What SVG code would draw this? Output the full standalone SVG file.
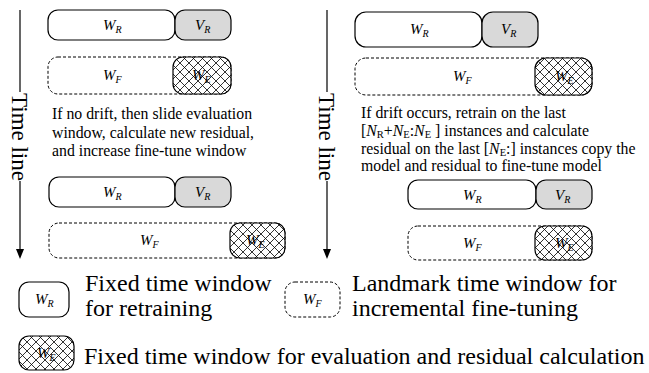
<svg xmlns="http://www.w3.org/2000/svg" width="649" height="373" viewBox="0 0 649 373">
<defs>
<pattern id="hatch" patternUnits="userSpaceOnUse" width="9" height="9">
<path d="M0,0 L9,9 M9,0 L0,9" stroke="#000" stroke-width="0.8" fill="none"/>
</pattern>
</defs>
<style>
.solid{fill:#fff;stroke:#000;stroke-width:1.2}
.grey{fill:#d9d9d9;stroke:#000;stroke-width:1.2}
.dash{fill:#fff;stroke:#000;stroke-width:1;stroke-dasharray:3,2}
.hb{fill:#fff;stroke:none}
.hh{fill:url(#hatch);stroke:#000;stroke-width:1.2}
.lbl{font-family:"Liberation Serif",serif;font-style:italic;font-size:15px;fill:#000}
.sub{font-size:10px}
.txt{font-family:"Liberation Serif",serif;font-size:15.8px;fill:#000}
.big{font-family:"Liberation Serif",serif;font-size:24px;fill:#000}
.tl{font-family:"Liberation Serif",serif;font-size:23px;fill:#000}
.ln{stroke:#000;stroke-width:1.2;fill:none}
</style>
<g id="connectors">
<line class="ln" x1="20" y1="10" x2="20" y2="92"/>
<line class="ln" x1="20" y1="181" x2="20" y2="250"/>
<path d="M16,249 L24,249 L20,259 Z" fill="#000"/>
<line class="ln" x1="327" y1="10" x2="327" y2="92"/>
<line class="ln" x1="327" y1="181" x2="327" y2="250"/>
<path d="M323,249 L331,249 L327,259 Z" fill="#000"/>
</g>
<g id="timeline-left"><text class="tl" transform="translate(12,93) rotate(90)">Time line</text></g>
<g id="timeline-right"><text class="tl" transform="translate(319,93) rotate(90)">Time line</text></g>

<g id="L1-WR"><rect class="solid" x="48" y="10" width="127" height="30" rx="10"/><text class="lbl" x="103" y="30">W<tspan class="sub" dy="3">R</tspan></text></g>
<g id="L1-VR"><rect class="grey" x="175" y="10" width="56" height="30" rx="10"/><text class="lbl" x="195" y="30">V<tspan class="sub" dy="3">R</tspan></text></g>
<g id="L1-WF"><rect class="dash" x="48" y="57" width="183" height="37" rx="10"/><text class="lbl" x="103" y="80">W<tspan class="sub" dy="3">F</tspan></text></g>
<g id="L1-WE"><rect class="hb" x="173" y="57" width="58" height="37" rx="10"/><text class="lbl" x="192" y="80">W<tspan class="sub" dy="3">E</tspan></text><rect class="hh" x="173" y="57" width="58" height="37" rx="10"/></g>

<g id="L-text">
<text class="txt" x="52" y="119">If no drift, then slide evaluation</text>
<text class="txt" x="52" y="137.5">window, calculate new residual,</text>
<text class="txt" x="52" y="156">and increase fine-tune window</text>
</g>

<g id="L2-WR"><rect class="solid" x="49" y="177" width="126" height="30" rx="10"/><text class="lbl" x="103" y="197">W<tspan class="sub" dy="3">R</tspan></text></g>
<g id="L2-VR"><rect class="grey" x="175" y="177" width="56" height="30" rx="10"/><text class="lbl" x="195" y="197">V<tspan class="sub" dy="3">R</tspan></text></g>
<g id="L2-WF"><rect class="dash" x="49" y="223" width="236" height="35" rx="10"/><text class="lbl" x="140" y="245">W<tspan class="sub" dy="3">F</tspan></text></g>
<g id="L2-WE"><rect class="hb" x="230" y="223" width="55" height="35" rx="10"/><text class="lbl" x="246" y="245">W<tspan class="sub" dy="3">E</tspan></text><rect class="hh" x="230" y="223" width="55" height="35" rx="10"/></g>

<g id="R1-WR"><rect class="solid" x="355" y="12" width="127" height="35" rx="11"/><text class="lbl" x="410" y="34">W<tspan class="sub" dy="3">R</tspan></text></g>
<g id="R1-VR"><rect class="grey" x="482" y="12" width="56" height="35" rx="11"/><text class="lbl" x="501" y="34">V<tspan class="sub" dy="3">R</tspan></text></g>
<g id="R1-WF"><rect class="dash" x="355" y="58" width="237" height="37" rx="11"/><text class="lbl" x="453" y="81">W<tspan class="sub" dy="3">F</tspan></text></g>
<g id="R1-WE"><rect class="hb" x="535" y="58" width="57" height="37" rx="11"/><text class="lbl" x="555" y="81">W<tspan class="sub" dy="3">E</tspan></text><rect class="hh" x="535" y="58" width="57" height="37" rx="11"/></g>

<g id="R-text">
<text class="txt" x="361" y="117.5">If drift occurs, retrain on the last</text>
<text class="txt" x="361" y="135.5">[<tspan font-style="italic">N</tspan><tspan font-size="10.5px" dy="2.5">R</tspan><tspan dy="-2.5">+</tspan><tspan font-style="italic">N</tspan><tspan font-size="10.5px" dy="2.5">E</tspan><tspan dy="-2.5">:</tspan><tspan font-style="italic">N</tspan><tspan font-size="10.5px" dy="2.5">E</tspan><tspan dy="-2.5"> ] instances and calculate</tspan></text>
<text class="txt" x="361" y="153.5">residual on the last [<tspan font-style="italic">N</tspan><tspan font-size="10.5px" dy="2.5">E</tspan><tspan dy="-2.5">:] instances copy the</tspan></text>
<text class="txt" x="361" y="171">model and residual to fine-tune model</text>
</g>

<g id="R2-WR"><rect class="solid" x="408" y="180" width="128" height="29" rx="10"/><text class="lbl" x="463" y="200">W<tspan class="sub" dy="3">R</tspan></text></g>
<g id="R2-VR"><rect class="grey" x="536" y="180" width="56" height="29" rx="10"/><text class="lbl" x="555" y="200">V<tspan class="sub" dy="3">R</tspan></text></g>
<g id="R2-WF"><rect class="dash" x="408" y="226" width="184" height="34" rx="10"/><text class="lbl" x="463" y="248">W<tspan class="sub" dy="3">F</tspan></text></g>
<g id="R2-WE"><rect class="hb" x="535" y="226" width="57" height="34" rx="10"/><text class="lbl" x="555" y="248">W<tspan class="sub" dy="3">E</tspan></text><rect class="hh" x="535" y="226" width="57" height="34" rx="10"/></g>

<g id="legend-WR"><rect class="solid" x="19" y="282" width="50" height="35" rx="10"/><text class="lbl" x="35" y="304">W<tspan class="sub" dy="3">R</tspan></text>
<text class="big" x="85" y="291">Fixed time window</text><text class="big" x="85" y="316">for retraining</text></g>
<g id="legend-WF"><rect class="dash" x="285" y="282" width="55" height="35" rx="10"/><text class="lbl" x="303" y="304">W<tspan class="sub" dy="3">F</tspan></text>
<text class="big" x="352" y="291">Landmark time window for</text><text class="big" x="352" y="316">incremental fine-tuning</text></g>
<g id="legend-WE"><rect class="hb" x="19" y="336" width="55" height="34" rx="10"/><text class="lbl" x="37" y="358">W<tspan class="sub" dy="3">E</tspan></text><rect class="hh" x="19" y="336" width="55" height="34" rx="10"/>
<text class="big" x="84" y="364">Fixed time window for evaluation and residual calculation</text></g>
</svg>
